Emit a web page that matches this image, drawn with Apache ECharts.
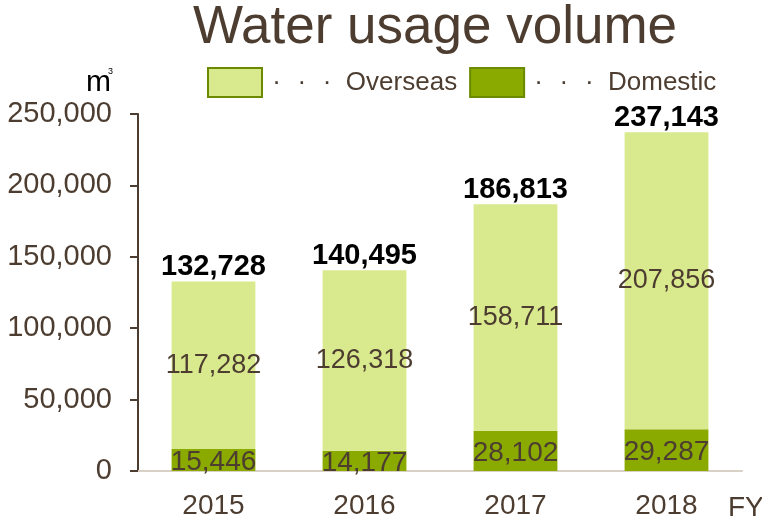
<!DOCTYPE html>
<html>
<head>
<meta charset="utf-8">
<script src="https://cdn.jsdelivr.net/npm/echarts@6/dist/echarts.min.js"></script>
<style>
  html, body { margin: 0; padding: 0; background: #fff; }
  #chart { width: 762px; height: 525px; }
</style>
</head>
<body>
<div id="chart"></div>
<script>
const years = ["2015", "2016", "2017", "2018"];
const domestic = [15446, 14177, 28102, 29287];
const overseas = [117282, 126318, 158711, 207856];
const totals = [132728, 140495, 186813, 237143];

const brown = "#4d3d30";
const font = "Liberation Sans";
const fmt = (v) => v.toLocaleString("en-US");

const chart = echarts.init(document.getElementById("chart"));

const option = {
  animation: false,
  textStyle: { fontFamily: font },
  title: {
    text: "Water usage volume",
    left: 430,
    textAlign: "center",
    top: -3,
    textStyle: { fontSize: 53, fontWeight: "normal", color: brown, fontFamily: font },
  },
  legend: {
    data: ["Overseas", "Domestic"],
    left: 202,
    top: 62,
    icon: "rect",
    itemWidth: 54,
    itemHeight: 29,
    itemGap: 12,
    formatter: (name) => "\u2009\u00b7  \u200a\u00b7  \u200a\u00b7  " + name,
    textStyle: { fontSize: 26, color: brown, fontFamily: font },
    itemStyle: { borderColor: "#6b8a00", borderWidth: 2 },
  },
  graphic: [
    {
      type: "text",
      x: 86,
      y: 98,
      style: {
        text: "m",
        fontSize: 30,
        fill: "#000",
        fontFamily: font,
        textVerticalAlign: "bottom",
      },
    },
    {
      type: "text",
      x: 108,
      y: 67,
      style: { text: "3", fontSize: 9, fill: "#000", fontFamily: font },
    },
    {
      type: "text",
      x: 728,
      y: 508,
      style: {
        text: "FY",
        fontSize: 28,
        fill: brown,
        fontFamily: font,
        textVerticalAlign: "middle",
      },
    },
  ],
  grid: { left: 138, right: 20, top: 114, bottom: 54 },
  xAxis: {
    type: "category",
    data: years,
    axisLine: { lineStyle: { color: "#d9d0c6", width: 2 } },
    axisTick: { show: false },
    axisLabel: { fontSize: 28, color: brown, margin: 21, fontFamily: font },
  },
  yAxis: {
    type: "value",
    min: 0,
    max: 250000,
    interval: 50000,
    axisLine: { show: true, lineStyle: { color: brown, width: 2 } },
    axisTick: { show: true, length: 8, lineStyle: { color: brown, width: 2 } },
    splitLine: { show: false },
    axisLabel: { fontSize: 29, color: brown, margin: 26, fontFamily: font, formatter: (v) => fmt(v) },
  },
  series: [
    {
      name: "Domestic",
      type: "bar",
      stack: "w",
      data: domestic,
      barWidth: "55.5%",
      itemStyle: { color: "#8aaa00" },
      label: {
        show: true,
        position: "inside",
        offset: [0, 2],
        fontSize: 28,
        color: brown,
        fontFamily: font,
        formatter: (p) => fmt(p.value),
      },
    },
    {
      name: "Overseas",
      type: "bar",
      stack: "w",
      data: overseas,
      barWidth: "55.5%",
      itemStyle: { color: "#d9ea8e" },
      label: {
        show: true,
        position: "inside",
        fontSize: 27,
        color: brown,
        fontFamily: font,
        formatter: (p) => fmt(p.value),
      },
    },
    {
      name: "Total",
      type: "bar",
      stack: "w",
      data: totals.map(() => 0),
      barWidth: "55.5%",
      itemStyle: { color: "transparent" },
      label: {
        show: true,
        position: "top",
        distance: 0,
        fontSize: 29,
        fontWeight: "bold",
        color: "#000",
        fontFamily: font,
        formatter: (p) => fmt(totals[p.dataIndex]),
      },
    },
  ],
};

chart.setOption(option);
</script>
</body>
</html>
